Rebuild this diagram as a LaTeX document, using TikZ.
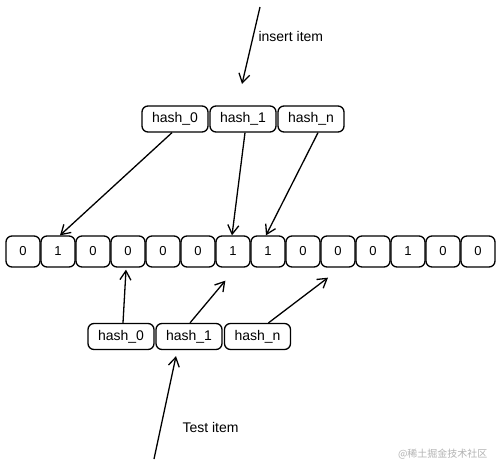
\documentclass[tikz,border=0pt]{standalone}
\usepackage{fontspec}
\setmainfont{Liberation Sans}
\newfontfamily\cjk{Noto Sans CJK SC}
\usetikzlibrary{arrows.meta}
\begin{document}
\begin{tikzpicture}[x=1pt,y=-1pt,
  cell/.style={draw=black,line width=1.3pt,rounded corners=6pt,minimum width=34pt,minimum height=31pt,inner sep=0pt,font=\fontsize{13}{13}\selectfont},
  hbox/.style={draw=black,line width=1.3pt,rounded corners=6pt,minimum width=66pt,minimum height=26pt,inner sep=0pt,font=\fontsize{14}{14}\selectfont},
  arr/.style={line width=1.3pt,-{Straight Barb[length=9pt,width=11pt,line width=1.3pt]}},
  lbl/.style={anchor=west,font=\fontsize{14}{14}\selectfont}]
\useasboundingbox (0,0) rectangle (500,466);
% bit array
\foreach \v [count=\i] in {0,1,0,0,0,0,1,1,0,0,0,1,0,0}{
  \node[cell] (c\i) at ({23+35*(\i-1)},251.5) {\v};
}
% top hashes
\node[hbox] (t0) at (175,119) {hash\_0};
\node[hbox] (t1) at (243,119) {hash\_1};
\node[hbox] (tn) at (311,119) {hash\_n};
% bottom hashes
\node[hbox] (b0) at (121,336.5) {hash\_0};
\node[hbox] (b1) at (189,336.5) {hash\_1};
\node[hbox] (bn) at (257.5,336.5) {hash\_n};
% insert item
\coordinate (ins) at (260,7);
\coordinate (insT) at (242,84);
\draw[arr] (ins) -- (insT);
\node[lbl] (insL) at (255,36) {insert item};
% top arrows
\draw[arr] ([xshift=-3pt]t0.south) -- ([xshift=2pt]c2.north);
\draw[arr] ([xshift=2pt]t1.south) -- ([xshift=-1pt]c7.north);
\draw[arr] ([xshift=7pt]tn.south) -- ([xshift=-2pt]c8.north);
% bottom arrows
\draw[arr] ([xshift=2pt]b0.north) -- ([xshift=-2pt,yshift=-2pt]c4.south);
\draw[arr] ([xshift=1pt]b1.north) -- ([xshift=10pt,yshift=-13pt]c7.south west);
\draw[arr] ([xshift=11pt]bn.north) -- ([xshift=-10pt,yshift=-10pt]c10.south);
% test item
\coordinate (tst) at (154,459);
\draw[arr] (tst) -- ([xshift=-13pt,yshift=-6pt]b1.south);
\node[lbl] (tstL) at (179,427) {Test item};
% watermark
\node[anchor=east,text=black!30,font=\cjk\fontsize{10}{10}\selectfont] (wm) at (491,454) {@稀土掘金技术社区};
\end{tikzpicture}
\end{document}
